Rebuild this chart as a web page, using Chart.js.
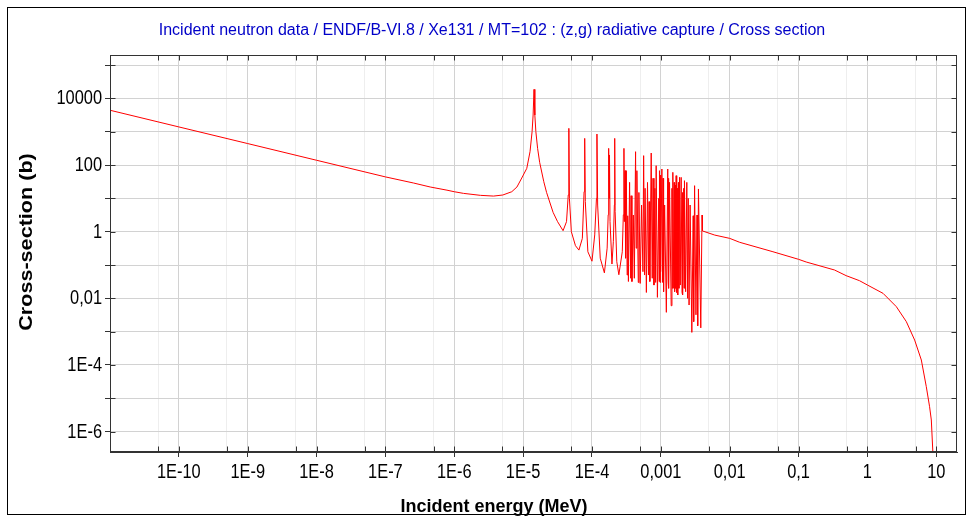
<!DOCTYPE html>
<html>
<head>
<meta charset="utf-8">
<script src="https://cdn.jsdelivr.net/npm/chart.js@4/dist/chart.umd.min.js"></script>
<style>
  html, body { margin: 0; padding: 0; background: #fff; }
  #wrap { position: relative; width: 970px; height: 519px; }
</style>
</head>
<body>
<div id="wrap"><canvas id="chart" width="970" height="519"></canvas></div>
<script>
// Xe131 (n,g) cross section
// incident energy in MeV
const energy = [
  1e-11, 1e-10, 1e-9, 1e-8, 1e-7, 2.57e-7, 4.47e-7, 7.83e-7, 1e-6, 1.36e-6,
  2.4e-6, 3.72e-6, 5.07e-6, 6.84e-6, 8.13e-6, 9.55e-6, 1.13e-5, 1.259e-5, 1.349e-5, 1.396e-5,
  1.439e-5, 1.479e-5, 1.531e-5, 1.622e-5, 1.738e-5, 1.995e-5, 2.188e-5, 2.723e-5, 3.162e-5, 3.802e-5,
  4.266e-5, 4.519e-5, 4.613e-5, 4.699e-5, 5.012e-5, 5.754e-5, 6.457e-5, 7.244e-5, 7.674e-5, 7.834e-5,
  7.998e-5, 8.71e-5, 1.0e-4, 1.096e-4, 1.161e-4, 1.18e-4, 1.208e-4, 1.318e-4, 1.514e-4, 1.66e-4,
  1.718e-4, 1.746e-4, 1.77e-4, 1.795e-4, 1.828e-4, 1.95e-4, 2.042e-4, 2.113e-4, 2.138e-4, 2.168e-4,
  2.291e-4, 2.455e-4, 2.754e-4, 2.851e-4, 2.911e-4, 2.951e-4, 3.02e-4, 3.076e-4, 3.148e-4, 3.24e-4,
  3.3e-4, 3.38e-4, 3.516e-4, 3.65e-4, 3.7e-4, 3.802e-4, 3.981e-4, 4.121e-4, 4.295e-4, 4.385e-4,
  4.487e-4, 4.7e-4, 4.8e-4, 5.012e-4, 5.248e-4, 5.495e-4, 5.623e-4, 5.8e-4, 5.9e-4, 6.166e-4,
  6.4e-4, 6.607e-4, 6.75e-4, 6.918e-4, 7.244e-4, 7.5e-4, 7.7e-4, 7.943e-4, 8.2e-4, 8.4e-4,
  8.551e-4, 8.913e-4, 9.333e-4, 9.441e-4, 9.55e-4, 9.75e-4, 9.85e-4, 1.0e-3, 1.035e-3, 1.06e-3,
  1.075e-3, 1.096e-3, 1.135e-3, 1.202e-3, 1.259e-3, 1.28e-3, 1.29e-3, 1.303e-3, 1.337e-3, 1.413e-3,
  1.45e-3, 1.47e-3, 1.493e-3, 1.54e-3, 1.56e-3, 1.585e-3, 1.62e-3, 1.64e-3, 1.667e-3, 1.7e-3,
  1.72e-3, 1.758e-3, 1.8e-3, 1.83e-3, 1.866e-3, 1.914e-3, 1.972e-3, 2.03e-3, 2.05e-3, 2.089e-3,
  2.15e-3, 2.17e-3, 2.203e-3, 2.291e-3, 2.382e-3, 2.45e-3, 2.5e-3, 2.57e-3, 2.661e-3, 2.818e-3,
  2.95e-3, 3.0e-3, 3.09e-3, 3.236e-3, 3.35e-3, 3.428e-3, 3.516e-3, 3.802e-3, 3.963e-3, 4.027e-3,
  6.067e-3, 0.01, 0.01396, 0.04246, 0.1, 0.1291, 0.3327, 0.4909, 0.7656, 1,
  1.687, 2.63, 3.673, 4.853, 6.067, 7.161, 7.998, 8.472, 8.913, 9.12
];
// cross section in barns
const sigma = [
  4400, 1390, 440, 139, 44, 28.8, 21.9, 17.6, 15.8, 14.1,
  12.3, 11.7, 12.6, 15.8, 21.9, 40.7, 79.4, 251, 1000, 3162,
  18600, 3162, 1000, 316, 120, 31.6, 15.1, 3.8, 2.0, 1.07,
  2.0, 12.6, 1260, 10, 1.0, 0.38, 0.28, 0.63, 15.8, 630,
  8, 0.25, 0.13, 0.8, 10, 850, 6.3, 0.16, 0.058, 0.32,
  3.2, 316, 10, 200, 2, 0.107, 0.5, 6.3, 630, 4,
  0.126, 0.051, 0.25, 3.2, 316, 2, 67.6, 0.16, 67.6, 0.05,
  3.0, 0.032, 30.2, 0.04, 12, 0.032, 3.16, 0.04, 251, 0.32,
  67.6, 0.03, 15, 0.028, 6.31, 0.063, 191, 0.05, 20, 0.015,
  30, 0.05, 8, 0.032, 229, 0.04, 40, 0.025, 20, 0.03,
  95.5, 0.0107, 10, 0.032, 67.6, 0.03, 50, 0.063, 75.9, 0.03,
  40, 0.0158, 6.31, 0.0038, 75.9, 0.03, 40, 0.02, 30.2, 0.006,
  20, 0.02, 60.3, 0.02, 30, 0.0158, 25, 0.02, 47.9, 0.015,
  20, 0.0126, 30, 0.02, 42.7, 0.025, 42.7, 0.015, 15, 0.0126,
  20, 0.02, 33.9, 0.0158, 30.2, 0.01, 10, 0.0063, 6.31, 0.00095,
  3, 0.002, 24, 0.0032, 3.16, 0.0015, 19.1, 0.0013, 3.16, 1.05,
  0.79, 0.63, 0.48, 0.25, 0.148, 0.123, 0.0708, 0.0479, 0.0339, 0.0251,
  0.0141, 0.00562, 0.002, 5.6e-4, 1.41e-4, 2.24e-5, 5.6e-6, 2.24e-6, 2.5e-7, 3e-8
];

const xMajorTicks = [1e-10, 1e-9, 1e-8, 1e-7, 1e-6, 1e-5, 1e-4, 1e-3, 1e-2, 0.1, 1, 10];
const xMajorLabels = ['1E-10', '1E-9', '1E-8', '1E-7', '1E-6', '1E-5', '1E-4', '0,001', '0,01', '0,1', '1', '10'];
const xMinorTicks = [5e-11, 5e-10, 5e-9, 5e-8, 5e-7, 5e-6, 5e-5, 5e-4, 5e-3, 0.05, 0.5, 5];
const yTicks = [1e-6, 1e-5, 1e-4, 1e-3, 1e-2, 0.1, 1, 10, 100, 1000, 10000, 1e5];
const yLabels = ['1E-6', '', '1E-4', '', '0,01', '', '1', '', '100', '', '10000', ''];

const chartTitle = 'Incident neutron data / ENDF/B-VI.8 / Xe131 / MT=102 : (z,g) radiative capture / Cross section';
const xTitle = 'Incident energy (MeV)';
const yTitle = 'Cross-section (b)';

const points = energy.map((e, i) => ({ x: e, y: sigma[i] }));

// narrow-looking text: no condensed font installed, so squeeze a normal one
function narrowText(ctx, text, x, y, align, sx) {
  ctx.save();
  ctx.translate(x, y);
  ctx.scale(sx, 1);
  ctx.textAlign = align;
  ctx.fillText(text, 0, 0);
  ctx.restore();
}

// frame, inner ticks, tick labels and titles
const decor = {
  id: 'decor',
  beforeDraw(chart) {
    const ctx = chart.ctx;
    ctx.save();
    ctx.fillStyle = '#fff';
    ctx.fillRect(0, 0, chart.width, chart.height);
    ctx.restore();
  },
  afterDraw(chart) {
    const { ctx, chartArea: a, scales } = chart;
    const x = scales.x, y = scales.y;
    ctx.save();
    ctx.strokeStyle = '#333';
    ctx.lineWidth = 1;
    // plot box
    const L = Math.round(a.left) + 0.5, R = Math.round(a.right) - 0.5;
    const T = Math.round(a.top) + 0.5, B = Math.round(a.bottom) - 0.5;
    ctx.strokeRect(L, T, R - L, B - T);
    // inner ticks
    ctx.beginPath();
    x.ticks.forEach(t => {
      const px = Math.round(x.getPixelForValue(t.value)) + 0.5;
      ctx.moveTo(px, B); ctx.lineTo(px, B - 5);
      ctx.moveTo(px, T); ctx.lineTo(px, T + 5);
    });
    y.ticks.forEach(t => {
      const py = Math.round(y.getPixelForValue(t.value)) + 0.5;
      ctx.moveTo(L, py); ctx.lineTo(L + 5, py);
      ctx.moveTo(R, py); ctx.lineTo(R - 5, py);
    });
    ctx.stroke();
    // outer frame
    ctx.strokeStyle = '#000';
    ctx.strokeRect(7.5, 7.5, 958, 507);

    // tick labels
    ctx.fillStyle = '#000';
    ctx.textBaseline = 'middle';
    ctx.font = '20px "Liberation Sans", Arial, sans-serif';
    xMajorTicks.forEach((v, i) => {
      narrowText(ctx, xMajorLabels[i], x.getPixelForValue(v), 472, 'center', 0.82);
    });
    yTicks.forEach((v, i) => {
      if (yLabels[i]) narrowText(ctx, yLabels[i], 102, y.getPixelForValue(v) + 0.5, 'right', 0.82);
    });

    // titles
    ctx.fillStyle = '#0000c8';
    ctx.textAlign = 'center';
    ctx.font = '16px "Liberation Sans", Arial, sans-serif';
    ctx.fillText(chartTitle, 492, 31);
    ctx.fillStyle = '#000';
    ctx.font = 'bold 18px "Liberation Sans", Arial, sans-serif';
    ctx.fillText(xTitle, 494, 507);
    ctx.translate(27, 242);
    ctx.rotate(-Math.PI / 2);
    ctx.scale(1.2, 1);
    ctx.fillText(yTitle, 0, 0);
    ctx.restore();
  }
};

new Chart(document.getElementById('chart'), {
  type: 'line',
  data: {
    datasets: [{
      data: points,
      borderColor: '#ff0000',
      borderWidth: 1,
      pointRadius: 0,
      tension: 0,
      fill: false
    }]
  },
  options: {
    responsive: false,
    animation: false,
    devicePixelRatio: 1,
    layout: { padding: { top: 55, right: 13, left: 0, bottom: 0 } },
    plugins: { legend: { display: false }, title: { display: false }, tooltip: { enabled: false } },
    scales: {
      x: {
        type: 'logarithmic',
        min: 1e-11,
        max: 20,
        afterFit: s => { s.height = 67; },
        afterBuildTicks: s => {
          s.ticks = xMinorTicks.concat(xMajorTicks).sort((p, q) => p - q).map(v => ({ value: v }));
        },
        border: { display: true, color: '#333' },
        grid: {
          color: c => xMinorTicks.includes(c.tick && c.tick.value) ? '#eeeeee' : '#d2d2d2',
          tickColor: c => xMinorTicks.includes(c.tick && c.tick.value) ? 'rgba(0,0,0,0)' : '#333',
          tickLength: 5
        },
        ticks: { display: false, autoSkip: false, maxRotation: 0 }
      },
      y: {
        type: 'logarithmic',
        min: 2.45e-7,
        max: 2e5,
        afterFit: s => { s.width = 110; },
        afterBuildTicks: s => { s.ticks = yTicks.map(v => ({ value: v })); },
        border: { display: true, color: '#333' },
        grid: { color: '#d2d2d2', tickColor: '#333', tickLength: 5 },
        ticks: { display: false, autoSkip: false }
      }
    }
  },
  plugins: [decor]
});
</script>
</body>
</html>
